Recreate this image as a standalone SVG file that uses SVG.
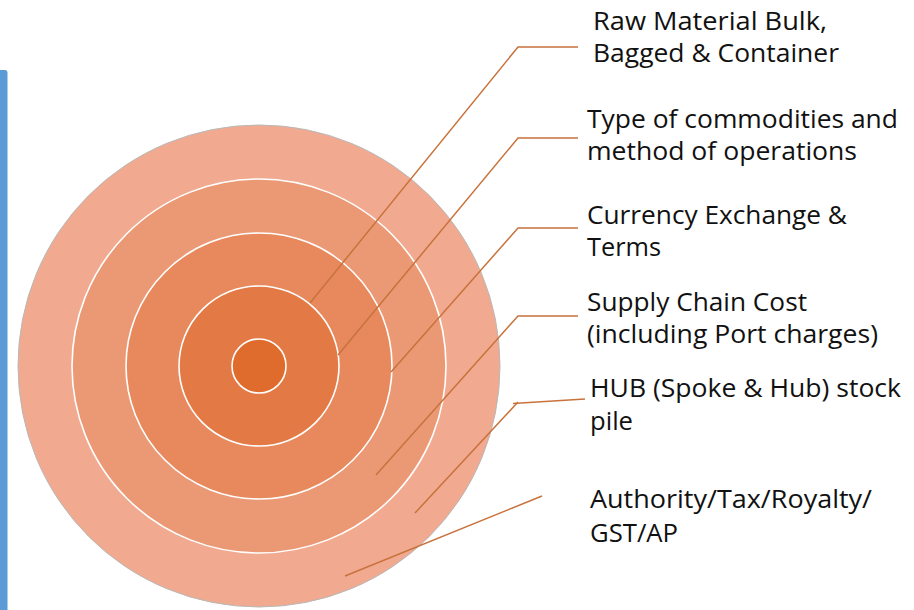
<svg xmlns="http://www.w3.org/2000/svg" width="914" height="610" viewBox="0 0 914 610">
  <style>
    .ring { stroke: #FFFFFF; stroke-width: 1.6; }
    .outer { stroke: #B8B8B8; stroke-width: 1; }
    .lbl { font-family: "Open Sans", "Liberation Sans", sans-serif; font-size: 25px; fill: #111111; }
    .conn { fill: none; stroke: #C8723C; stroke-width: 1.5; }
  </style>
  <rect width="914" height="610" fill="#FFFFFF"/>
  <path id="sidebar" d="M0,70 H5 Q7.5,70 7.5,73 V610 H0 Z" fill="#5B9BD5"/>

  <g id="ring-authority">
    <circle class="outer" cx="259" cy="366" r="241" fill="#F1AA8F"/>
  </g>
  <g id="ring-hub">
    <circle class="ring" cx="259" cy="366" r="187" fill="#EB9975"/>
  </g>
  <g id="ring-supply">
    <circle class="ring" cx="259" cy="366" r="133" fill="#E7895D"/>
  </g>
  <g id="ring-currency">
    <circle class="ring" cx="259" cy="366" r="80" fill="#E37A45"/>
  </g>
  <g id="ring-core">
    <circle class="ring" cx="259" cy="366" r="27" fill="#DF6C2D"/>
  </g>

  <g id="connectors">
    <polyline class="conn" points="578,47 518,47 310,303"/>
    <polyline class="conn" points="578,138 518,138 338,355"/>
    <polyline class="conn" points="578,228 518,228 391,372"/>
    <polyline class="conn" points="578,316 518,316 376,475"/>
    <polyline class="conn" points="585,399 513,403.5"/>
    <polyline class="conn" points="518,402 415,513"/>
    <polyline class="conn" points="542,496 345,576"/>
  </g>

  <g id="label-raw">
    <text class="lbl" x="593" y="30" textLength="234" lengthAdjust="spacingAndGlyphs">Raw Material Bulk,</text>
    <text class="lbl" x="593" y="62" textLength="246" lengthAdjust="spacingAndGlyphs">Bagged &amp; Container</text>
  </g>
  <g id="label-type">
    <text class="lbl" x="587" y="128" textLength="311" lengthAdjust="spacingAndGlyphs">Type of commodities and</text>
    <text class="lbl" x="587" y="160" textLength="270" lengthAdjust="spacingAndGlyphs">method of operations</text>
  </g>
  <g id="label-currency">
    <text class="lbl" x="587" y="224" textLength="260" lengthAdjust="spacingAndGlyphs">Currency Exchange &amp;</text>
    <text class="lbl" x="587" y="256" textLength="74" lengthAdjust="spacingAndGlyphs">Terms</text>
  </g>
  <g id="label-supply">
    <text class="lbl" x="587" y="311" textLength="220" lengthAdjust="spacingAndGlyphs">Supply Chain Cost</text>
    <text class="lbl" x="587" y="343" textLength="291" lengthAdjust="spacingAndGlyphs">(including Port charges)</text>
  </g>
  <g id="label-hub">
    <text class="lbl" x="590" y="397" textLength="311" lengthAdjust="spacingAndGlyphs">HUB (Spoke &amp; Hub) stock</text>
    <text class="lbl" x="590" y="430" textLength="43" lengthAdjust="spacingAndGlyphs">pile</text>
  </g>
  <g id="label-authority">
    <text class="lbl" x="590" y="508" textLength="282" lengthAdjust="spacingAndGlyphs">Authority/Tax/Royalty/</text>
    <text class="lbl" x="590" y="542" textLength="88" lengthAdjust="spacingAndGlyphs">GST/AP</text>
  </g>
</svg>
